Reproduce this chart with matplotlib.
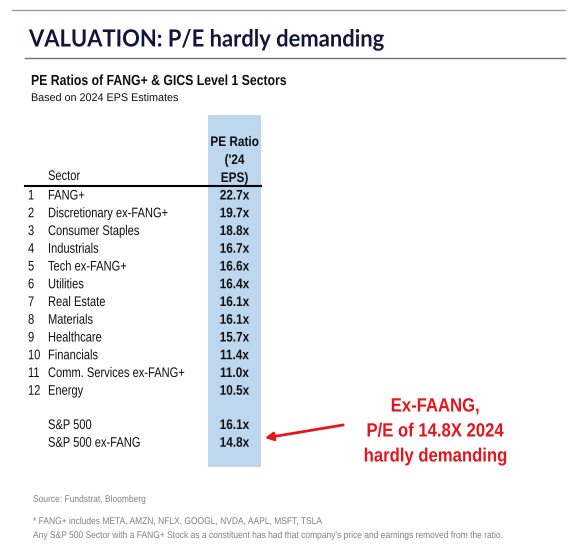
import matplotlib
matplotlib.use("Agg")
import matplotlib.pyplot as plt
from matplotlib.patheffects import AbstractPathEffect
from matplotlib.transforms import Affine2D

# Table data
ranks = ["1", "2", "3", "4", "5", "6", "7", "8", "9", "10", "11", "12"]
sectors = ["FANG+", "Discretionary ex-FANG+", "Consumer Staples", "Industrials",
           "Tech ex-FANG+", "Utilities", "Real Estate", "Materials", "Healthcare",
           "Financials", "Comm. Services ex-FANG+", "Energy"]
pe_ratios = [22.7, 19.7, 18.8, 16.7, 16.6, 16.4, 16.1, 16.1, 15.7, 11.4, 11.0, 10.5]
index_names = ["S&P 500", "S&P 500 ex-FANG"]
index_pe = [16.1, 14.8]
header = ["PE Ratio", "('24", "EPS)"]
callout = ["Ex-FAANG,", "P/E of 14.8X 2024", "hardly demanding"]


# squeeze glyphs horizontally to mimic a condensed (Arial Narrow style) face
class Narrow(AbstractPathEffect):
    def __init__(self, sx=0.8, center=False):
        super().__init__()
        self.sx = sx
        self.center = center

    def draw_path(self, renderer, gc, tpath, affine, rgbFace=None):
        cx = 0
        if self.center:
            ext = tpath.get_extents()
            cx = (ext.x0 + ext.x1) / 2
        t = Affine2D().translate(-cx, 0).scale(self.sx, 1).translate(cx, 0) + affine
        renderer.draw_path(gc, tpath, t, rgbFace)


FONT = "Liberation Sans"
ink = "#111111"
left = [Narrow(0.8)]
mid = [Narrow(0.85, center=True)]

fig = plt.figure(figsize=(5.78, 5.52), dpi=100)
ax = fig.add_axes([0, 0, 1, 1])
ax.set_xlim(0, 578)
ax.set_ylim(552, 0)
ax.axis("off")

# header area
ax.plot([12, 565], [10, 10], color="#9a9a9a", lw=1)
ax.text(29, 39, "VALUATION: P/E hardly demanding", fontsize=17, fontweight="bold",
        family="Lato", color="#14143c", va="center", path_effects=[Narrow(0.93)])
ax.plot([25, 565], [58, 58], color="#707070", lw=1)
ax.text(31, 81, "PE Ratios of FANG+ & GICS Level 1 Sectors", fontsize=10.5,
        fontweight="bold", family=FONT, color=ink, va="center",
        path_effects=[Narrow(0.84)])
ax.text(31, 98, "Based on 2024 EPS Estimates", fontsize=8, family=FONT,
        color=ink, va="center", path_effects=[Narrow(0.97)])

# blue column
ax.fill_between([208, 261], 115, 467, color="#bdd7ee", lw=0)
for i, s in enumerate(header):
    ax.text(234.5, 142 + i * 18, s, fontsize=10, fontweight="bold", family=FONT,
            ha="center", va="center", color=ink, path_effects=mid)
ax.text(48, 176, "Sector", fontsize=10, family=FONT, va="center", color=ink,
        path_effects=left)
ax.plot([25, 261], [186, 186], color="black", lw=1.5)

y0, dy = 195.5, 17.75
for i, (r, s, v) in enumerate(zip(ranks, sectors, pe_ratios)):
    y = y0 + i * dy
    ax.text(28, y, r, fontsize=10, family=FONT, va="center", color=ink,
            path_effects=left)
    ax.text(48, y, s, fontsize=10, family=FONT, va="center", color=ink,
            path_effects=left)
    ax.text(234.5, y, f"{v:.1f}x", fontsize=10, fontweight="bold", family=FONT,
            ha="center", va="center", color=ink, path_effects=mid)
for i, (s, v) in enumerate(zip(index_names, index_pe)):
    y = 425 + i * dy
    ax.text(48, y, s, fontsize=10, family=FONT, va="center", color=ink,
            path_effects=left)
    ax.text(234.5, y, f"{v:.1f}x", fontsize=10, fontweight="bold", family=FONT,
            ha="center", va="center", color=ink, path_effects=mid)

# annotation
red = "#e8141c"
ax.annotate("", xy=(262, 438.5), xytext=(346, 424.5),
            arrowprops=dict(arrowstyle="-|>", color=red, lw=2, mutation_scale=12))
for i, s in enumerate(callout):
    ax.text(435, 407 + i * 25, s, fontsize=13.8, fontweight="bold", family=FONT,
            ha="center", va="center", color=red,
            path_effects=[Narrow(0.87, center=True)])

# footnotes
grey = "#808080"
foot = [Narrow(0.87)]
ax.text(33, 499, "Source: Fundstrat, Bloomberg", fontsize=7, family=FONT,
        color=grey, va="center", path_effects=foot)
ax.text(33, 521, "* FANG+ includes META, AMZN, NFLX, GOOGL, NVDA, AAPL, MSFT, TSLA",
        fontsize=7, family=FONT, color=grey, va="center", path_effects=foot)
ax.text(33, 535, "Any S&P 500 Sector with a FANG+ Stock as a constituent has had that "
        "company's price and earnings removed from the ratio.",
        fontsize=7, family=FONT, color=grey, va="center", path_effects=foot)

fig.savefig("out.png", dpi=100)
